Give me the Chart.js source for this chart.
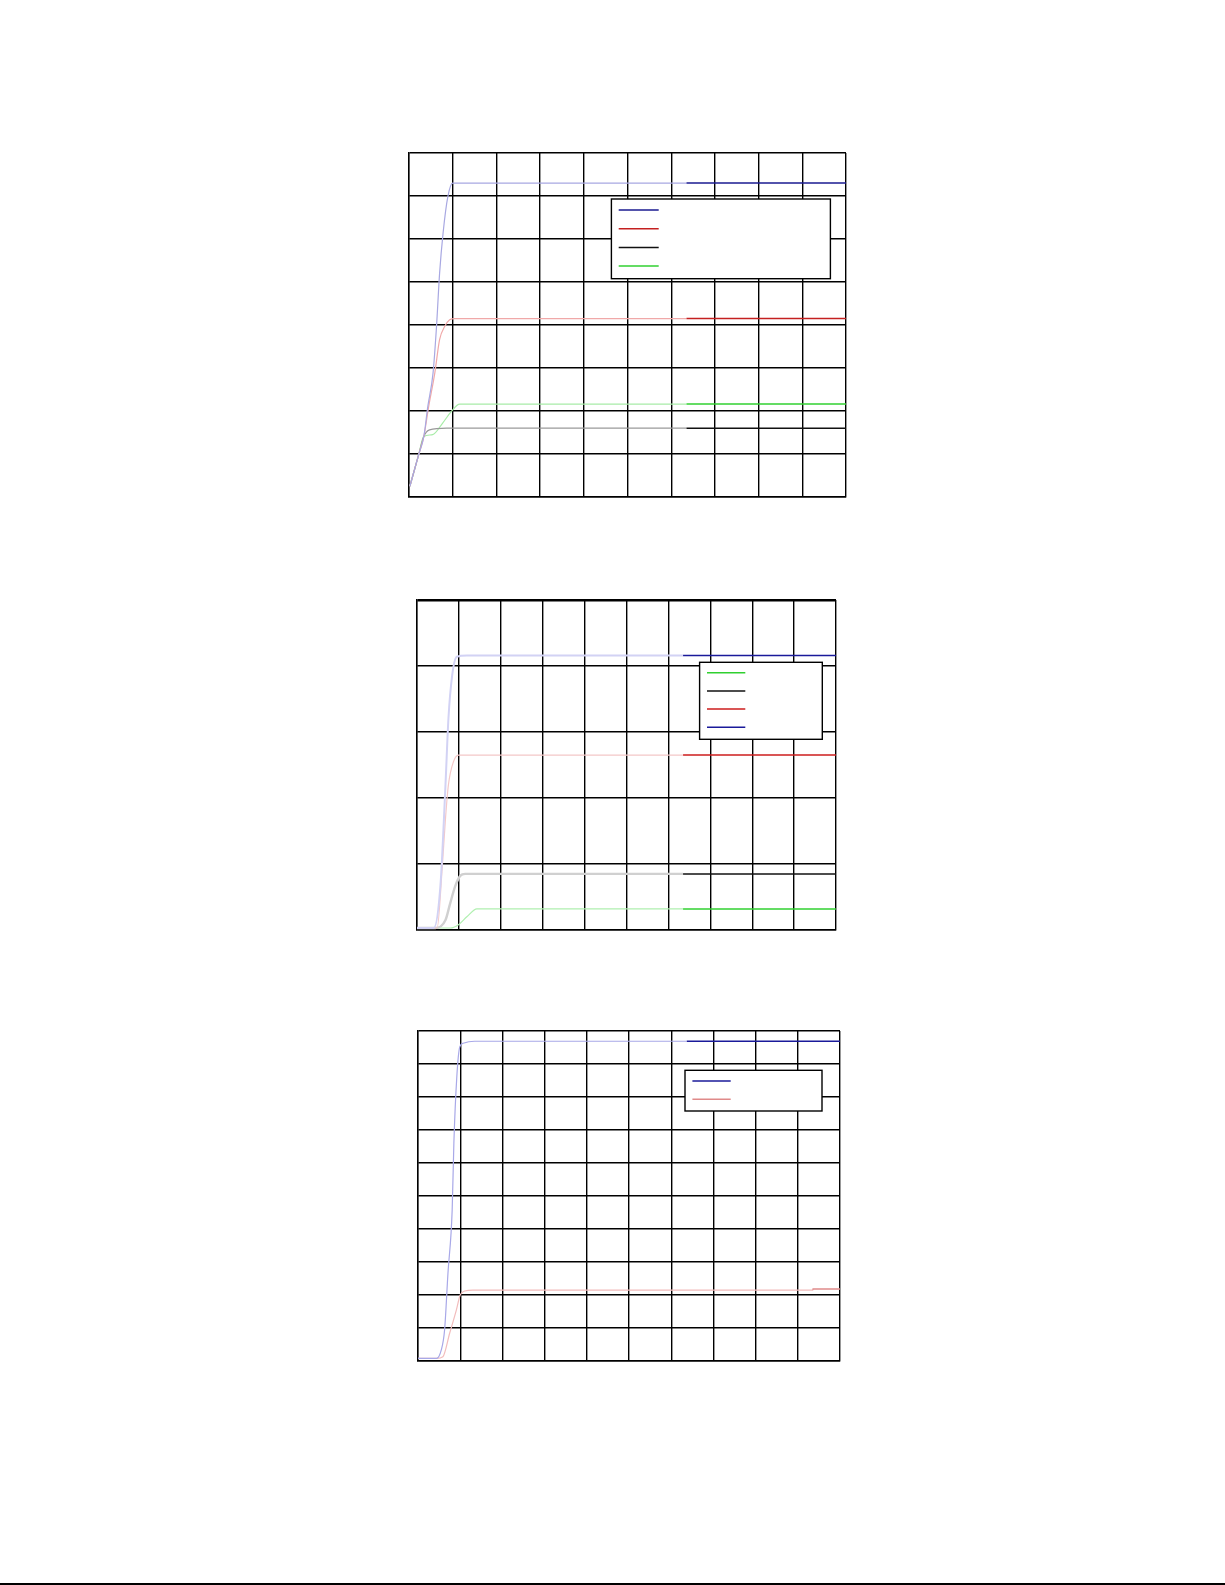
<!DOCTYPE html>
<html>
<head>
<meta charset="utf-8">
<script src="https://cdn.jsdelivr.net/npm/chart.js@4.4.1/dist/chart.umd.min.js"></script>
<style>
  body { margin: 0; background: #fff; width: 1225px; height: 1585px; position: relative; overflow: hidden; }
  .box { position: absolute; }
  #rule { position: absolute; left: 0; top: 1583px; width: 1225px; height: 2px; background: #000; }
</style>
</head>
<body>
<div class="box" id="b1"><canvas id="c1"></canvas></div>
<div class="box" id="b2"><canvas id="c2"></canvas></div>
<div class="box" id="b3"><canvas id="c3"></canvas></div>
<div id="rule"></div>
<script>
// values, in grid units (x 0..10)
const fadeEnd = 6.35;

// chart 1 (y 0..8)
const top1Blue  = [[0.02,0.25],[0.22,0.98],[0.34,1.41],[0.43,2.1],[0.55,2.88],[0.63,3.97],[0.70,5.2],[0.78,6.14],[0.89,6.99],[1.0,7.30],[6.35,7.30],[10,7.30]];
const top1Red   = [[0.02,0.25],[0.22,0.98],[0.34,1.41],[0.45,2.1],[0.59,2.88],[0.70,3.66],[0.82,3.97],[0.93,4.12],[1.05,4.15],[6.35,4.15],[10,4.15]];
const top1Black = [[0.02,0.25],[0.22,0.98],[0.34,1.41],[0.47,1.56],[0.86,1.60],[6.35,1.60],[10,1.60]];
const top1Green = [[0.02,0.25],[0.22,0.98],[0.34,1.41],[0.54,1.45],[0.77,1.72],[0.97,1.99],[1.16,2.16],[6.35,2.16],[10,2.16]];

// chart 2 (y 0..5)
const mid2Blue  = [[0,0.03],[0.40,0.03],[0.56,0.68],[0.68,2.2],[0.75,3.2],[0.84,3.86],[0.95,4.14],[1.19,4.16],[6.35,4.16],[10,4.16]];
const mid2Red   = [[0,0.03],[0.48,0.03],[0.60,0.93],[0.68,1.69],[0.75,2.2],[0.87,2.55],[0.99,2.65],[6.35,2.65],[10,2.65]];
const mid2Black = [[0,0.03],[0.44,0.03],[0.68,0.15],[0.79,0.40],[0.91,0.66],[1.03,0.82],[1.15,0.85],[6.35,0.85],[10,0.85]];
const mid2Green = [[0,0.03],[0.79,0.03],[0.99,0.08],[1.19,0.20],[1.43,0.32],[6.35,0.32],[10,0.32]];

// chart 3 (y 0..10)
const low3Blue = [[0,0.08],[0.44,0.08],[0.55,0.33],[0.63,0.94],[0.71,2.66],[0.81,4.58],[0.85,6.60],[0.92,8.62],[0.99,9.52],[1.07,9.63],[1.34,9.69],[6.37,9.69],[10,9.69]];
const low3Red  = [[0,0.08],[0.44,0.08],[0.59,0.13],[0.75,0.84],[0.91,1.55],[1.0,2.0],[1.11,2.12],[1.30,2.15],[9.35,2.15],[9.36,2.18],[10,2.18]];

const pad = 4;

// legend box drawn inside the plot, samples only (no text in the original)
const boxLegendPlugin = {
    id: 'boxLegend',
    afterDatasetsDraw(chart, args, opts) {
        const a = chart.chartArea;
        const ctx = chart.ctx;
        const x = a.left + opts.x, y = a.top + opts.y;
        ctx.save();
        ctx.fillStyle = '#fff';
        ctx.fillRect(x, y, opts.w, opts.h);
        ctx.strokeStyle = '#000';
        ctx.lineWidth = 1.4;
        ctx.strokeRect(x, y, opts.w, opts.h);
        opts.order.forEach((di, i) => {
            const ds = chart.data.datasets[di];
            const yy = y + opts.dy + i * opts.step;
            ctx.strokeStyle = ds.borderColor;
            ctx.lineWidth = 1.5;
            ctx.beginPath();
            ctx.moveTo(x + opts.dx, yy);
            ctx.lineTo(x + opts.dx + opts.len, yy);
            ctx.stroke();
        });
        ctx.restore();
    }
};

function makeChart(id, boxId, area, yMax, topWidth, series, legend) {
    const box = document.getElementById(boxId);
    box.style.left = (area.left - pad) + 'px';
    box.style.top = (area.top - pad) + 'px';
    const cv = document.getElementById(id);
    cv.width = Math.round(area.w + 2 * pad);
    cv.height = Math.round(area.h + 2 * pad);

    const gridFor = max => ({
        color: '#000',
        lineWidth: c => (c.tick && c.tick.value === max) ? topWidth : 1.4,
        drawTicks: false
    });

    new Chart(cv.getContext('2d'), {
        type: 'line',
        data: {
            datasets: series.map(s => ({
                data: s.points.map(p => ({ x: p[0], y: p[1] })),
                borderColor: s.strong,
                borderWidth: s.paleWidth,
                pointRadius: 0,
                fill: false,
                cubicInterpolationMode: 'monotone',
                segment: {
                    borderColor: c => c.p0.parsed.x >= s.fade - 1e-6 ? s.strong : s.pale,
                    borderWidth: c => c.p0.parsed.x >= s.fade - 1e-6 ? 1.5 : s.paleWidth
                }
            }))
        },
        options: {
            responsive: false,
            animation: false,
            events: [],
            layout: { padding: pad },
            plugins: {
                legend: { display: false },
                tooltip: { enabled: false },
                boxLegend: legend
            },
            scales: {
                x: {
                    type: 'linear', min: 0, max: 10,
                    ticks: { display: false, stepSize: 1 },
                    grid: { color: '#000', lineWidth: 1.4, drawTicks: false },
                    border: { color: '#000', width: 1.4 }
                },
                y: {
                    min: 0, max: yMax,
                    ticks: { display: false, stepSize: 1 },
                    grid: gridFor(yMax),
                    border: { color: '#000', width: 1.4 }
                }
            }
        },
        plugins: [boxLegendPlugin]
    });
}

makeChart('c1', 'b1', { left: 409.3, top: 153.3, w: 436.7, h: 344 }, 8, 1.4, [
    { points: top1Blue,  pale: '#a8a8e2', strong: '#1a1a90', paleWidth: 1.2, fade: fadeEnd },
    { points: top1Red,   pale: '#f0a8a8', strong: '#c42020', paleWidth: 1.2, fade: fadeEnd },
    { points: top1Black, pale: '#9a9a9a', strong: '#111111', paleWidth: 1.2, fade: fadeEnd },
    { points: top1Green, pale: '#a8eca8', strong: '#30d030', paleWidth: 1.2, fade: fadeEnd }
], { x: 202.4, y: 46, w: 219, h: 79.7, dx: 7.3, len: 40, dy: 11, step: 18.7, order: [0, 1, 2, 3] });

makeChart('c2', 'b2', { left: 416.7, top: 600, w: 419.3, h: 330 }, 5, 2.6, [
    { points: mid2Blue,  pale: '#d2d2f4', strong: '#1a1a9a', paleWidth: 2,   fade: fadeEnd },
    { points: mid2Red,   pale: '#f4c8c8', strong: '#cc1c1c', paleWidth: 1.2, fade: fadeEnd },
    { points: mid2Black, pale: '#d0d0d0', strong: '#111111', paleWidth: 2.4, fade: fadeEnd },
    { points: mid2Green, pale: '#b0f0b0', strong: '#30d030', paleWidth: 1.2, fade: fadeEnd }
], { x: 282.6, y: 62.3, w: 122.7, h: 77, dx: 7.4, len: 38.3, dy: 10.4, step: 18.2, order: [3, 2, 1, 0] });

makeChart('c3', 'b3', { left: 418.3, top: 1031, w: 421.7, h: 330 }, 10, 1.4, [
    { points: low3Blue, pale: '#a8a8e8', strong: '#1a1a9a', paleWidth: 1.2, fade: 6.37 },
    { points: low3Red,  pale: '#f2bcbc', strong: '#e08a8a', paleWidth: 1.2, fade: 9.35 }
], { x: 267, y: 39.3, w: 137, h: 40.7, dx: 7.4, len: 38.3, dy: 10.7, step: 18.3, order: [0, 1] });
</script>
</body>
</html>
